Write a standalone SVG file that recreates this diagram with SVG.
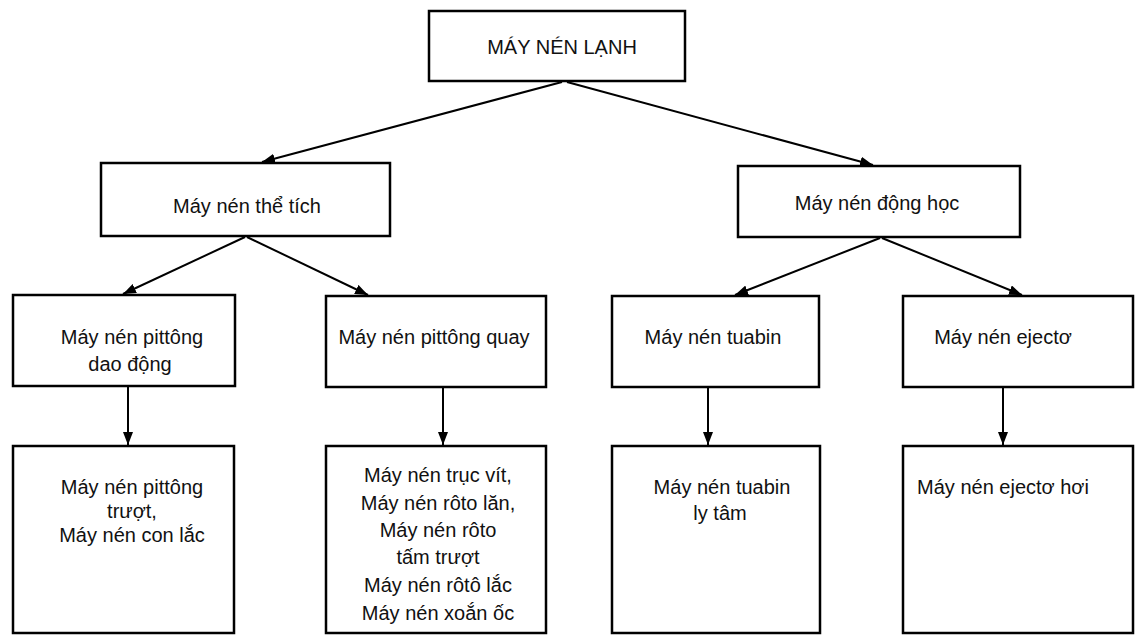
<svg xmlns="http://www.w3.org/2000/svg" width="1136" height="635" viewBox="0 0 1136 635">
<style>
.box{fill:#fff;stroke:#000;stroke-width:2.5}
.lbl{font-family:"Liberation Sans",Arial,sans-serif;font-size:20px;fill:#111;text-anchor:middle}
.con{stroke:#000;stroke-width:2;fill:none}
</style>
<defs>
<marker id="ah" markerUnits="userSpaceOnUse" markerWidth="14" markerHeight="10" refX="13" refY="5" orient="auto">
<path d="M0,0 L13,5 L0,10 z" fill="#000"/>
</marker>
</defs>
<rect width="1136" height="635" fill="#fff"/>
<g id="connectors">
<line class="con" x1="562" y1="82" x2="262" y2="162" marker-end="url(#ah)"/>
<line class="con" x1="567" y1="82" x2="873" y2="165" marker-end="url(#ah)"/>
<line class="con" x1="245" y1="237" x2="123" y2="294" marker-end="url(#ah)"/>
<line class="con" x1="247" y1="237" x2="368" y2="295" marker-end="url(#ah)"/>
<line class="con" x1="880" y1="238" x2="735" y2="295" marker-end="url(#ah)"/>
<line class="con" x1="882" y1="238" x2="1022" y2="295" marker-end="url(#ah)"/>
<line class="con" x1="128" y1="387" x2="128" y2="445" marker-end="url(#ah)"/>
<line class="con" x1="443" y1="388" x2="443" y2="445" marker-end="url(#ah)"/>
<line class="con" x1="708" y1="388" x2="708" y2="445" marker-end="url(#ah)"/>
<line class="con" x1="1003" y1="388" x2="1003" y2="445" marker-end="url(#ah)"/>
</g>
<g id="root">
<rect class="box" x="429" y="11" width="256" height="70"/>
<text class="lbl" x="562" y="54">MÁY NÉN LẠNH</text>
</g>
<g id="the-tich">
<rect class="box" x="101" y="163" width="289" height="73"/>
<text class="lbl" x="247" y="213">Máy nén thể tích</text>
</g>
<g id="dong-hoc">
<rect class="box" x="738" y="166" width="282" height="71"/>
<text class="lbl" x="877" y="210">Máy nén động học</text>
</g>
<g id="pittong-dao-dong">
<rect class="box" x="13" y="295" width="222" height="91"/>
<text class="lbl" x="132" y="344">Máy nén pittông</text>
<text class="lbl" x="130" y="371">dao động</text>
</g>
<g id="pittong-quay">
<rect class="box" x="326" y="296" width="220" height="91"/>
<text class="lbl" x="434" y="344">Máy nén pittông quay</text>
</g>
<g id="tuabin">
<rect class="box" x="612" y="296" width="207" height="91"/>
<text class="lbl" x="713" y="344">Máy nén tuabin</text>
</g>
<g id="ejecto">
<rect class="box" x="903" y="296" width="230" height="91"/>
<text class="lbl" x="1003" y="344">Máy nén ejectơ</text>
</g>
<g id="pittong-truot">
<rect class="box" x="13" y="446" width="221" height="187"/>
<text class="lbl" x="132" y="494">Máy nén pittông</text>
<text class="lbl" x="132" y="518">trượt,</text>
<text class="lbl" x="132" y="542">Máy nén con lắc</text>
</g>
<g id="truc-vit">
<rect class="box" x="326" y="446" width="220" height="187"/>
<text class="lbl" x="438" y="482">Máy nén trục vít,</text>
<text class="lbl" x="438" y="510">Máy nén rôto lăn,</text>
<text class="lbl" x="438" y="537">Máy nén rôto</text>
<text class="lbl" x="438" y="564">tấm trượt</text>
<text class="lbl" x="438" y="592">Máy nén rôtô lắc</text>
<text class="lbl" x="438" y="620">Máy nén xoắn ốc</text>
</g>
<g id="tuabin-ly-tam">
<rect class="box" x="612" y="446" width="208" height="187"/>
<text class="lbl" x="722" y="494">Máy nén tuabin</text>
<text class="lbl" x="720" y="520">ly tâm</text>
</g>
<g id="ejecto-hoi">
<rect class="box" x="903" y="446" width="230" height="187"/>
<text class="lbl" x="1003" y="494">Máy nén ejectơ hơi</text>
</g>
</svg>
